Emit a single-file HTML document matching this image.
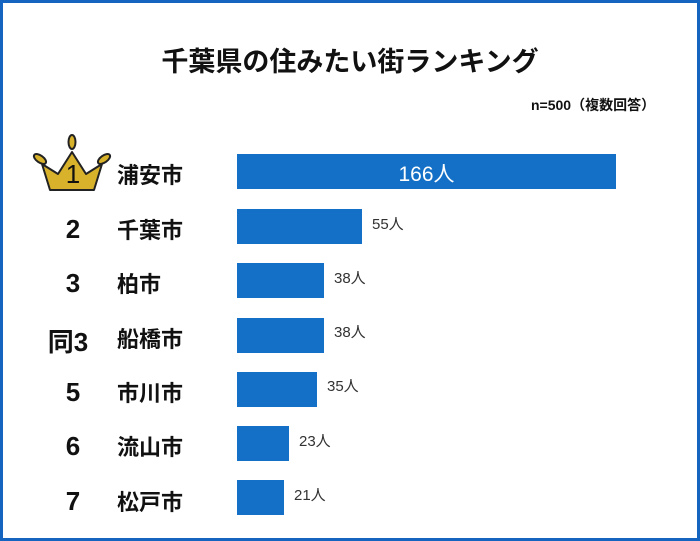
<!DOCTYPE html>
<html><head><meta charset="utf-8"><style>
body{margin:0;width:700px;height:541px;overflow:hidden;background:#fff;font-family:"Liberation Sans","Noto Sans CJK JP",sans-serif;}
.frame{position:absolute;left:0;top:0;width:694px;height:535px;border:3px solid #1565c0;}
.t{position:absolute;white-space:nowrap;color:#111;}
.bar{position:absolute;left:237px;height:35px;background:#1470c6;}
.rk{position:absolute;width:80px;left:33px;text-align:center;font-size:26px;color:#111;font-weight:bold;}
.nm{position:absolute;left:117px;font-size:22px;color:#111;font-weight:bold;}
.v{position:absolute;font-size:15px;color:#333;}
</style></head><body>
<div class="frame"></div>
<div class="t" style="left:0;width:700px;text-align:center;top:40px;font-size:27px;font-weight:bold;">千葉県の住みたい街ランキング</div>
<div class="t" style="left:531px;top:95px;font-size:14px;font-weight:bold;">n=500（複数回答）</div>
<svg style="position:absolute;left:30px;top:134px" width="84" height="60" viewBox="0 0 84 60">
<path d="M12 30 L28 40 L42 18 L56 40 L72 30 L64 56 L20 56 Z" fill="#d8b22a" stroke="#222" stroke-width="2" stroke-linejoin="round"/>
<ellipse cx="42" cy="8" rx="3.5" ry="7" fill="#d8b22a" stroke="#222" stroke-width="2"/>
<ellipse cx="10" cy="25" rx="3.5" ry="7" transform="rotate(-55 10 25)" fill="#d8b22a" stroke="#222" stroke-width="2"/>
<ellipse cx="74" cy="25" rx="3.5" ry="7" transform="rotate(55 74 25)" fill="#d8b22a" stroke="#222" stroke-width="2"/>
</svg>
<div class="rk" style="top:159px;font-weight:normal">1</div>
<div class="nm" style="top:158px">浦安市</div>
<div class="bar" style="top:154px;width:379px"></div>
<div class="t" style="left:237px;width:379px;text-align:center;top:158px;font-size:21px;color:#fff">166人</div>

<div class="rk" style="top:214px">2</div><div class="nm" style="top:213px">千葉市</div>
<div class="bar" style="top:209px;width:125px"></div><div class="v" style="left:372px;top:213px">55人</div>

<div class="rk" style="top:268px">3</div><div class="nm" style="top:267px">柏市</div>
<div class="bar" style="top:263px;width:87px"></div><div class="v" style="left:334px;top:267px">38人</div>

<div class="rk" style="top:322px;left:28px">同3</div><div class="nm" style="top:322px">船橋市</div>
<div class="bar" style="top:318px;width:87px"></div><div class="v" style="left:334px;top:321px">38人</div>

<div class="rk" style="top:377px">5</div><div class="nm" style="top:376px">市川市</div>
<div class="bar" style="top:372px;width:80px"></div><div class="v" style="left:327px;top:375px">35人</div>

<div class="rk" style="top:431px">6</div><div class="nm" style="top:430px">流山市</div>
<div class="bar" style="top:426px;width:52px"></div><div class="v" style="left:299px;top:430px">23人</div>

<div class="rk" style="top:486px">7</div><div class="nm" style="top:485px">松戸市</div>
<div class="bar" style="top:480px;width:47px"></div><div class="v" style="left:294px;top:484px">21人</div>
</body></html>
